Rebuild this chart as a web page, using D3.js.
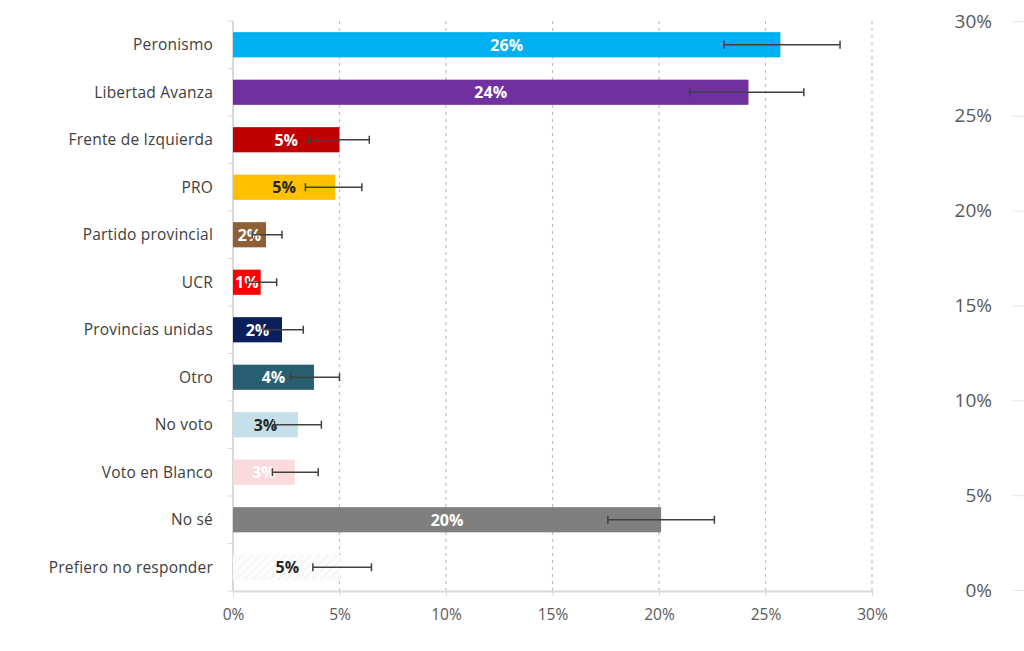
<!DOCTYPE html>
<html>
<head>
<meta charset="utf-8">
<script src="https://cdn.jsdelivr.net/npm/d3@7"></script>
<style>
  body { margin: 0; background: #fff; font-family: "Open Sans", "Noto Sans", sans-serif; }
  .axis text { fill: #595959; font-family: "Open Sans", "Noto Sans", sans-serif; }
  .cat-label { fill: #404040; font-size: 15.5px; letter-spacing: 0.2px; }
</style>
</head>
<body>
<div class="chart-container"></div>
<script>
// datos
const categories = ['Peronismo', 'Libertad Avanza', 'Frente de Izquierda', 'PRO', 'Partido provincial',
  'UCR', 'Provincias unidas', 'Otro', 'No voto', 'Voto en Blanco', 'No sé', 'Prefiero no responder'];
const values  = [25.7, 24.2, 5.0, 4.8, 1.55, 1.3, 2.3, 3.8, 3.05, 2.9, 20.1, 5.1];
const errLow  = [23.05, 21.45, 3.55, 3.4, 0.9, 0.7, 1.4, 2.7, 1.95, 1.85, 17.6, 3.75];
const errHigh = [28.5, 26.8, 6.4, 6.05, 2.3, 2.05, 3.3, 5.0, 4.15, 4.0, 22.6, 6.5];
const barColors = ['#00b0f0', '#7030a0', '#c00000', '#ffc000', '#8f6035', '#ff0000',
  '#0a1f5c', '#275f70', '#c6e0ea', '#fadadd', '#7f7f7f', 'url(#hatch)'];
const labelColors = ['#fff', '#fff', '#fff', '#262626', '#fff', '#fff',
  '#fff', '#fff', '#262626', '#fff', '#fff', '#262626'];
const xTicks = [0, 5, 10, 15, 20, 25, 30];
const rightTicks = [0, 5, 10, 15, 20, 25, 30];

const width = 1024, height = 651;
const margin = { top: 21, left: 233, right: 152, bottom: 60 };
const plotBottom = height - margin.bottom; // 591
const plotRight = width - margin.right;     // 872

const svg = d3.select('.chart-container')
  .append('svg')
  .attr('width', width)
  .attr('height', height);

// patrón rayado para "Prefiero no responder"
const defs = svg.append('defs');
const pat = defs.append('pattern')
  .attr('id', 'hatch')
  .attr('patternUnits', 'userSpaceOnUse')
  .attr('width', 6).attr('height', 6)
  .attr('patternTransform', 'rotate(45)');
pat.append('rect').attr('width', 6).attr('height', 6).attr('fill', '#fcfcfc');
pat.append('line').attr('x1', 0).attr('y1', 0).attr('x2', 0).attr('y2', 6)
  .attr('stroke', '#f0f0f0').attr('stroke-width', 2);

const xScale = d3.scaleLinear([0, 30], [margin.left, plotRight]);
const yScale = d3.scaleBand()
  .domain(categories)
  .range([margin.top, plotBottom])
  .paddingInner(0.47)
  .paddingOuter(0.235);

// grilla punteada
svg.append('g')
  .selectAll('line')
  .data(xTicks.filter(d => d > 0))
  .join('line')
  .attr('x1', d => xScale(d)).attr('x2', d => xScale(d))
  .attr('y1', margin.top).attr('y2', plotBottom)
  .attr('stroke', '#bfbfbf')
  .attr('stroke-width', 1.2)
  .attr('stroke-dasharray', '3,4');

// eje x
const xAxis = d3.axisBottom(xScale)
  .tickValues(xTicks)
  .tickFormat(d => d + '%')
  .tickSizeInner(5)
  .tickSizeOuter(0)
  .tickPadding(13);
const xAxisDraw = svg.append('g')
  .attr('class', 'x axis')
  .attr('transform', `translate(0,${plotBottom})`)
  .call(xAxis);
xAxisDraw.select('.domain').attr('stroke', '#d9d9d9').attr('stroke-width', 2);
xAxisDraw.selectAll('line').attr('stroke', '#d9d9d9');
xAxisDraw.selectAll('text').style('font-size', '15.5px');

// eje y (línea y marcas entre categorías)
const step = yScale.step();
const bounds = d3.range(categories.length + 1).map(i => margin.top + i * step);
const yAxisG = svg.append('g').attr('class', 'y axis');
yAxisG.append('line')
  .attr('x1', margin.left).attr('x2', margin.left)
  .attr('y1', margin.top).attr('y2', plotBottom)
  .attr('stroke', '#d9d9d9').attr('stroke-width', 2);
yAxisG.selectAll('.btick')
  .data(bounds)
  .join('line')
  .attr('class', 'btick')
  .attr('x1', margin.left - 5).attr('x2', margin.left)
  .attr('y1', d => d).attr('y2', d => d)
  .attr('stroke', '#d9d9d9');

svg.append('g')
  .selectAll('text')
  .data(categories)
  .join('text')
  .attr('class', 'cat-label')
  .attr('x', margin.left - 20)
  .attr('y', d => yScale(d) + yScale.bandwidth() / 2)
  .attr('dy', '0.35em')
  .attr('text-anchor', 'end')
  .text(d => d);

// barras
svg.append('g')
  .selectAll('.bar')
  .data(categories)
  .join('rect')
  .attr('class', 'bar')
  .attr('x', xScale(0))
  .attr('y', d => yScale(d))
  .attr('width', (d, i) => xScale(values[i]) - xScale(0))
  .attr('height', yScale.bandwidth())
  .attr('fill', (d, i) => barColors[i]);

// etiquetas de valor
svg.append('g')
  .selectAll('text')
  .data(categories)
  .join('text')
  .attr('x', (d, i) => (xScale(0) + xScale(values[i])) / 2)
  .attr('y', d => yScale(d) + yScale.bandwidth() / 2)
  .attr('dy', '0.38em')
  .attr('text-anchor', 'middle')
  .style('font-size', '16px')
  .style('font-weight', 'bold')
  .attr('fill', (d, i) => labelColors[i])
  .text((d, i) => Math.round(values[i]) + '%');

// barras de error
const errG = svg.append('g')
  .selectAll('g')
  .data(categories)
  .join('g')
  .attr('transform', d => `translate(0,${yScale(d) + yScale.bandwidth() / 2})`)
  .attr('stroke', '#404040')
  .attr('stroke-width', 1.5);
errG.append('line')
  .attr('x1', (d, i) => xScale(errLow[i]))
  .attr('x2', (d, i) => xScale(errHigh[i]))
  .attr('y1', 0).attr('y2', 0);
errG.append('line')
  .attr('x1', (d, i) => xScale(errLow[i]))
  .attr('x2', (d, i) => xScale(errLow[i]))
  .attr('y1', -4).attr('y2', 4);
errG.append('line')
  .attr('x1', (d, i) => xScale(errHigh[i]))
  .attr('x2', (d, i) => xScale(errHigh[i]))
  .attr('y1', -4).attr('y2', 4);

// eje derecho
const yRight = d3.scaleLinear([0, 30], [590, 21]);
const rightAxis = d3.axisLeft(yRight)
  .tickValues(rightTicks)
  .tickFormat(d => d + '%')
  .tickSizeInner(-11)
  .tickSizeOuter(0)
  .tickPadding(21);
const rightDraw = svg.append('g')
  .attr('class', 'axis right')
  .attr('transform', 'translate(1013,0)')
  .call(rightAxis);
rightDraw.select('.domain').remove();
rightDraw.selectAll('line').attr('stroke', '#e6e6e6');
rightDraw.selectAll('text').style('font-size', '19px');
</script>
</body>
</html>
